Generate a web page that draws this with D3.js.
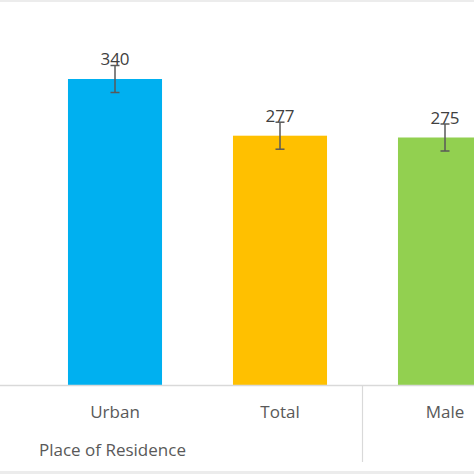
<!DOCTYPE html>
<html>
<head>
<meta charset="utf-8">
<script src="https://cdn.jsdelivr.net/npm/d3@7"></script>
<style>
  html, body { margin: 0; padding: 0; background: #fff; }
  svg { display: block; }
  text { font-family: "Open Sans", "Noto Sans", sans-serif; fill: #595959; }
</style>
</head>
<body>
<svg id="chart" width="474" height="474"></svg>
<script>
// values
var categories = ["Urban", "Total", "Male"];
var values = [340, 277, 275];
var errors = [15, 15, 15];
var colors = ["#00b0f0", "#ffc000", "#92d050"];
var groupLabel = "Place of Residence";

var svg = d3.select("#chart"),
    W = 474, H = 474,
    axisY = 385;

var x = d3.scaleBand()
    .domain(categories)
    .range([32.5, 32.5 + 165 * categories.length])
    .paddingInner(0.43)
    .paddingOuter(0.215);

var y = d3.scaleLinear()
    .domain([0, 400])
    .range([axisY, 25]);

// frame lines at the top and bottom of the crop
svg.append("rect").attr("x", 0).attr("y", 0).attr("width", W).attr("height", 2).attr("fill", "#ececec");
svg.append("rect").attr("x", 0).attr("y", 471).attr("width", W).attr("height", 3).attr("fill", "#ececec");

// bars
svg.selectAll("rect.bar")
    .data(categories)
    .enter()
    .append("rect")
    .attr("class", "bar")
    .attr("x", function (d) { return x(d); })
    .attr("y", function (d, i) { return y(values[i]); })
    .attr("width", x.bandwidth())
    .attr("height", function (d, i) { return axisY - y(values[i]); })
    .attr("fill", function (d, i) { return colors[i]; });

// category axis
svg.append("line")
    .attr("x1", 0).attr("x2", W)
    .attr("y1", axisY + 0.5).attr("y2", axisY + 0.5)
    .attr("stroke", "#d9d9d9").attr("stroke-width", 1.5);

// group divider between Total and Male
var divX = x.range()[0] + x.step() * 2;
svg.append("line")
    .attr("x1", divX).attr("x2", divX)
    .attr("y1", axisY).attr("y2", 462)
    .attr("stroke", "#d9d9d9").attr("stroke-width", 1.2);

// value labels
svg.selectAll("text.val")
    .data(categories)
    .enter()
    .append("text")
    .attr("class", "val")
    .attr("x", function (d) { return x(d) + x.bandwidth() / 2; })
    .attr("y", function (d, i) { return y(values[i]) - 14; })
    .attr("text-anchor", "middle")
    .attr("font-size", 17)
    .style("fill", "#404040")
    .text(function (d, i) { return values[i]; });

// error bars
var eb = svg.selectAll("g.err")
    .data(categories)
    .enter()
    .append("g")
    .attr("class", "err")
    .attr("stroke", "#595959")
    .attr("stroke-width", 1.5);

eb.append("line")
    .attr("x1", function (d) { return x(d) + x.bandwidth() / 2; })
    .attr("x2", function (d) { return x(d) + x.bandwidth() / 2; })
    .attr("y1", function (d, i) { return y(values[i] + errors[i]); })
    .attr("y2", function (d, i) { return y(values[i] - errors[i]); });

[1, -1].forEach(function (s) {
    eb.append("line")
        .attr("x1", function (d) { return x(d) + x.bandwidth() / 2 - 4.5; })
        .attr("x2", function (d) { return x(d) + x.bandwidth() / 2 + 4.5; })
        .attr("y1", function (d, i) { return y(values[i] + s * errors[i]); })
        .attr("y2", function (d, i) { return y(values[i] + s * errors[i]); });
});

// category labels
svg.selectAll("text.cat")
    .data(categories)
    .enter()
    .append("text")
    .attr("class", "cat")
    .attr("x", function (d) { return x(d) + x.bandwidth() / 2; })
    .attr("y", 418)
    .attr("text-anchor", "middle")
    .attr("font-size", 17)
    .text(function (d) { return d; });

svg.append("text")
    .attr("x", 39)
    .attr("y", 456)
    .attr("font-size", 17)
    .text(groupLabel);
</script>
</body>
</html>
